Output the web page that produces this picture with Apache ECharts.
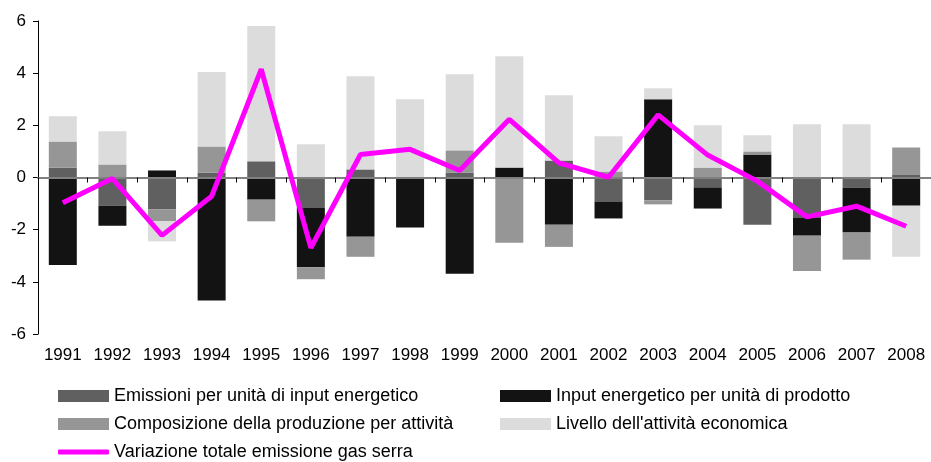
<!DOCTYPE html>
<html>
<head>
<meta charset="utf-8">
<script src="https://cdn.jsdelivr.net/npm/echarts@6/dist/echarts.min.js"></script>
<style>
html,body{margin:0;padding:0;background:#fff;}
#c{width:931px;height:462px;}
</style>
</head>
<body>
<div id="c"></div>
<script>
const years = ['1991','1992','1993','1994','1995','1996','1997','1998','1999','2000','2001','2002','2003','2004','2005','2006','2007','2008'];
const emissioni = [0.38,-1.08,-1.23,0.19,0.62,-1.15,0.31,0,0.19,0,0.65,-0.92,-0.88,-0.38,-1.81,-1.54,-0.38,0.12];
const inputEnerg = [-3.35,-0.77,0.27,-4.72,-0.85,-2.29,-2.27,-1.92,-3.69,0.38,-1.81,-0.65,3.0,-0.81,0.88,-0.69,-1.73,-1.08];
const composizione = [1.0,0.5,-0.45,1.0,-0.83,-0.46,-0.77,0,0.85,-2.5,-0.85,0.23,-0.15,0.38,0.12,-1.35,-1.04,1.03];
const livello = [0.97,1.27,-0.77,2.85,5.19,1.27,3.57,3.0,2.92,4.27,2.5,1.35,0.42,1.62,0.62,2.04,2.04,-1.96];
const totale = [-0.97,-0.04,-2.22,-0.72,4.15,-2.70,0.88,1.08,0.27,2.23,0.56,0.01,2.40,0.86,-0.14,-1.51,-1.10,-1.87];

const names = ['Emissioni per unità di input energetico','Input energetico per unità di prodotto','Composizione della produzione per attività',"Livello dell'attività economica",'Variazione totale emissione gas serra'];
const colors = ['#606060','#131313','#969696','#dcdcdc','#ff00ff'];
const FONT = '"Liberation Sans", Arial, sans-serif';

const chart = echarts.init(document.getElementById('c'), null, {renderer:'canvas'});
function bar(i, data){
  return {name:names[i], type:'bar', stack:'tot', stackStrategy:'samesign', data:data, barWidth:28,
    itemStyle:{color:colors[i]}, xAxisIndex:0, yAxisIndex:0, z:2, animation:false};
}
function leg(name, left, top, icon, h){
  return {left:left, top:top, padding:0, itemWidth:51, itemHeight:h, itemGap:0,
    textStyle:{fontSize:18, color:'#000', fontFamily:FONT},
    data:[{name:name, icon:icon}]};
}
chart.setOption({
  animation:false,
  grid:{left:38, top:21, width:900, height:313, containLabel:false},
  legend:[
    leg(names[0], 58, 387, 'rect', 12),
    leg(names[1], 500, 387, 'rect', 12),
    leg(names[2], 58, 415, 'rect', 12),
    leg(names[3], 500, 415, 'rect', 12),
    leg(names[4], 58, 443, 'roundRect', 5)
  ],
  xAxis:[
    {type:'category', data:years, position:'bottom', z:3,
     axisLine:{onZero:true, lineStyle:{color:'#808080', width:2}},
     axisTick:{show:true, length:5, lineStyle:{color:'#000', width:1}},
     axisLabel:{show:false}, splitLine:{show:false}},
    {type:'category', data:years, position:'bottom', gridIndex:0,
     axisLine:{show:false}, axisTick:{show:false},
     axisLabel:{show:true, fontSize:17, color:'#000', fontFamily:FONT, margin:13}}
  ],
  yAxis:{type:'value', min:-6, max:6, interval:2,
    axisLine:{show:true, lineStyle:{color:'#000', width:1}},
    axisTick:{show:true, length:5, inside:false, lineStyle:{color:'#000'}},
    axisLabel:{fontSize:17, color:'#000', fontFamily:FONT, margin:12},
    splitLine:{show:false}},
  series:[
    bar(0, emissioni),
    bar(1, inputEnerg),
    bar(2, composizione),
    bar(3, livello),
    {name:names[4], type:'line', data:totale, symbol:'none', showSymbol:false,
     lineStyle:{color:colors[4], width:5}, itemStyle:{color:colors[4]}, z:5, xAxisIndex:0}
  ]
});
</script>
</body>
</html>
